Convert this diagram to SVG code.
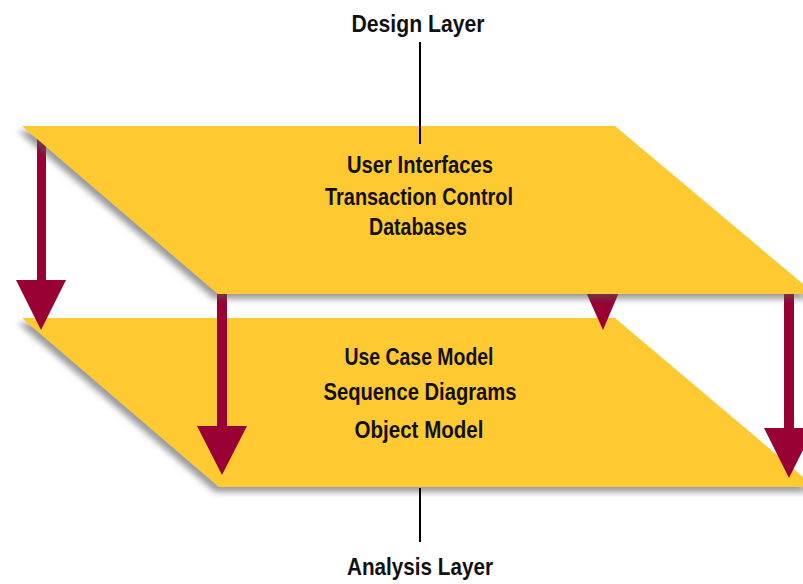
<svg xmlns="http://www.w3.org/2000/svg" width="803" height="584" viewBox="0 0 803 584">
<defs>
<filter id="sh" x="-10%" y="-10%" width="120%" height="130%">
<feDropShadow dx="-4" dy="5" stdDeviation="3" flood-color="#555" flood-opacity="0.6"/>
</filter>
</defs>
<style>
.plane{fill:#FFC933;filter:url(#sh)}
.arr{fill:#990033}
.ln{stroke:#000;stroke-width:2;fill:none}
text{font-family:"Liberation Sans",Arial,sans-serif;font-weight:bold;font-size:24px;fill:#111;text-anchor:middle}
</style>
<rect width="803" height="584" fill="#fff"/>
<g id="analysis-plane">
<polygon class="plane" points="22,318 615,318 815,487 219,487"/>
</g>
<g id="connectors">
<rect class="arr" x="37" y="130" width="9" height="152"/>
<polygon class="arr" points="16,280 66,280 41,330"/>
<rect class="arr" x="217" y="280" width="10" height="148"/>
<polygon class="arr" points="197,426 247,426 222,475"/>
<polygon class="arr" points="585,290 620,290 603,330"/>
<rect class="arr" x="784" y="280" width="10" height="150"/>
<polygon class="arr" points="764,428 814,428 789,478"/>
<line class="ln" x1="420" y1="42" x2="420" y2="144"/>
<line class="ln" x1="420" y1="488" x2="420" y2="542"/>
</g>
<g id="design-plane">
<polygon class="plane" points="22,126 615,126 815,294 218,294"/>
<line class="ln" x1="420" y1="126" x2="420" y2="144"/>
</g>
<g id="design-text">
<text x="420" y="173" textLength="146" lengthAdjust="spacingAndGlyphs">User Interfaces</text>
<text x="419" y="205" textLength="188" lengthAdjust="spacingAndGlyphs">Transaction Control</text>
<text x="418" y="235" textLength="98" lengthAdjust="spacingAndGlyphs">Databases</text>
</g>
<g id="analysis-text">
<text x="419" y="365" textLength="149" lengthAdjust="spacingAndGlyphs">Use Case Model</text>
<text x="420" y="400" textLength="193" lengthAdjust="spacingAndGlyphs">Sequence Diagrams</text>
<text x="419" y="438" textLength="129" lengthAdjust="spacingAndGlyphs">Object Model</text>
</g>
<g id="design-label">
<text x="418" y="32" font-size="25" textLength="133" lengthAdjust="spacingAndGlyphs">Design Layer</text>
</g>
<g id="analysis-label">
<text x="420" y="575" font-size="25" textLength="146" lengthAdjust="spacingAndGlyphs">Analysis Layer</text>
</g>
</svg>
